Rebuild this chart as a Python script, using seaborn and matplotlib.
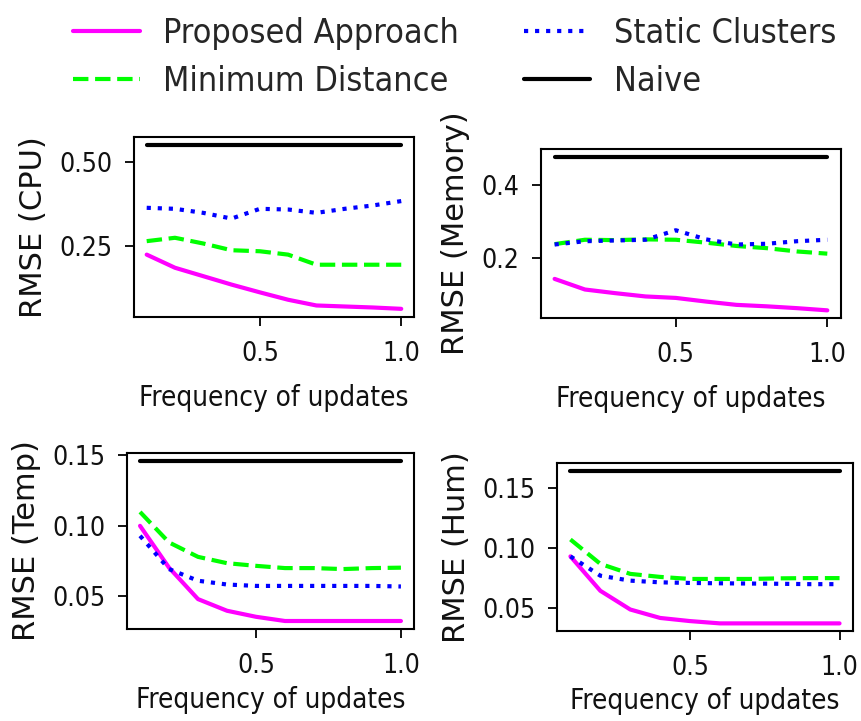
import matplotlib
matplotlib.use("Agg")
import matplotlib.pyplot as plt
import seaborn as sns
import pandas as pd

freq = [0.1, 0.2, 0.3, 0.4, 0.5, 0.6, 0.7, 0.8, 0.9, 1.0]

cpu_proposed = [0.224, 0.185, 0.160, 0.135, 0.112, 0.090, 0.073, 0.070, 0.067, 0.063]
cpu_mindist = [0.264, 0.274, 0.257, 0.237, 0.234, 0.224, 0.194, 0.194, 0.194, 0.194]
cpu_static = [0.363, 0.360, 0.348, 0.331, 0.360, 0.358, 0.348, 0.360, 0.370, 0.383]
cpu_naive = [0.549, 0.549, 0.549, 0.549, 0.549, 0.549, 0.549, 0.549, 0.549, 0.549]

mem_proposed = [0.142, 0.113, 0.103, 0.094, 0.090, 0.080, 0.071, 0.067, 0.062, 0.056]
mem_mindist = [0.237, 0.249, 0.248, 0.250, 0.249, 0.241, 0.232, 0.226, 0.217, 0.211]
mem_static = [0.236, 0.245, 0.247, 0.249, 0.275, 0.250, 0.236, 0.238, 0.245, 0.249]
mem_naive = [0.476, 0.476, 0.476, 0.476, 0.476, 0.476, 0.476, 0.476, 0.476, 0.476]

temp_proposed = [0.0998, 0.070, 0.0476, 0.0393, 0.035, 0.032, 0.032, 0.032, 0.032, 0.032]
temp_mindist = [0.1097, 0.088, 0.0777, 0.0732, 0.0713, 0.0697, 0.0697, 0.069, 0.0697, 0.070]
temp_static = [0.0927, 0.069, 0.0607, 0.058, 0.057, 0.057, 0.057, 0.057, 0.057, 0.0566]
temp_naive = [0.146, 0.146, 0.146, 0.146, 0.146, 0.146, 0.146, 0.146, 0.146, 0.146]

hum_proposed = [0.093, 0.0645, 0.049, 0.042, 0.0394, 0.0375, 0.0375, 0.0375, 0.0375, 0.0375]
hum_mindist = [0.107, 0.0868, 0.0785, 0.076, 0.0743, 0.0743, 0.0743, 0.0748, 0.075, 0.075]
hum_static = [0.093, 0.077, 0.0729, 0.0715, 0.071, 0.0707, 0.0705, 0.0703, 0.070, 0.070]
hum_naive = [0.164, 0.164, 0.164, 0.164, 0.164, 0.164, 0.164, 0.164, 0.164, 0.164]

methods = ["Proposed Approach", "Minimum Distance", "Static Clusters", "Naive"]
colors = ["#ff00ff", "#00ff00", "#0000ff", "#000000"]
styles = ["-", "--", ":", "-"]
ylabels = ["RMSE (CPU)", "RMSE (Memory)", "RMSE (Temp)", "RMSE (Hum)"]
yticks = [[0.25, 0.50], [0.2, 0.4], [0.05, 0.10, 0.15], [0.05, 0.10, 0.15]]
ytick_labels = [["0.25", "0.50"], ["0.2", "0.4"], ["0.05", "0.10", "0.15"], ["0.05", "0.10", "0.15"]]
xticks = [0.5, 1.0]
panels = [
    [cpu_proposed, cpu_mindist, cpu_static, cpu_naive],
    [mem_proposed, mem_mindist, mem_static, mem_naive],
    [temp_proposed, temp_mindist, temp_static, temp_naive],
    [hum_proposed, hum_mindist, hum_static, hum_naive],
]

sns.set_theme(style="ticks")
plt.rcParams["font.family"] = ["DejaVu Sans"]
plt.rcParams["font.stretch"] = "condensed"

fig = plt.figure(figsize=(8.61, 7.21), dpi=100)
positions = [
    [0.1556, 0.5603, 0.3252, 0.2497],
    [0.6283, 0.5589, 0.3484, 0.2344],
    [0.1475, 0.1276, 0.3333, 0.2441],
    [0.6469, 0.1248, 0.3438, 0.2330],
]
xlabel_pads = [12, 12, 5, 4]

handles = None
for pos, series, ylab, yt, ytl, lp in zip(positions, panels, ylabels, yticks, ytick_labels, xlabel_pads):
    ax = fig.add_axes(pos)
    for name, vals, c, ls in zip(methods, series, colors, styles):
        df = pd.DataFrame({"freq": freq, "rmse": vals})
        sns.lineplot(data=df, x="freq", y="rmse", ax=ax, color=c, linestyle=ls,
                     linewidth=3.0, label=name, legend=False)
    ax.set_xlabel("Frequency of updates", fontsize=20, labelpad=lp, color="#111111")
    ax.set_ylabel(ylab, fontsize=22, labelpad=8, color="#111111", fontstretch="normal")
    ax.set_xticks(xticks)
    ax.set_xticklabels([f"{v:.1f}" for v in xticks])
    ax.set_yticks(yt)
    ax.set_yticklabels(ytl)
    ax.tick_params(labelsize=19, length=6.5, width=1.3, color="black", labelcolor="#111111")
    ax.tick_params(axis="x", pad=11)
    ax.tick_params(axis="y", pad=9)
    for s in ax.spines.values():
        s.set_linewidth(1.5)
        s.set_color("black")
    ax.set_facecolor("white")
    if handles is None:
        handles, labels = ax.get_legend_handles_labels()

fig.legend(handles, labels, loc="upper left", bbox_to_anchor=(0.085, 0.976), ncol=2,
           frameon=False, fontsize=24.5, handlelength=1.95, columnspacing=1.9,
           handletextpad=0.7, labelspacing=0.42, borderpad=0, borderaxespad=0)

fig.savefig("out.png", dpi=100, facecolor="white")
